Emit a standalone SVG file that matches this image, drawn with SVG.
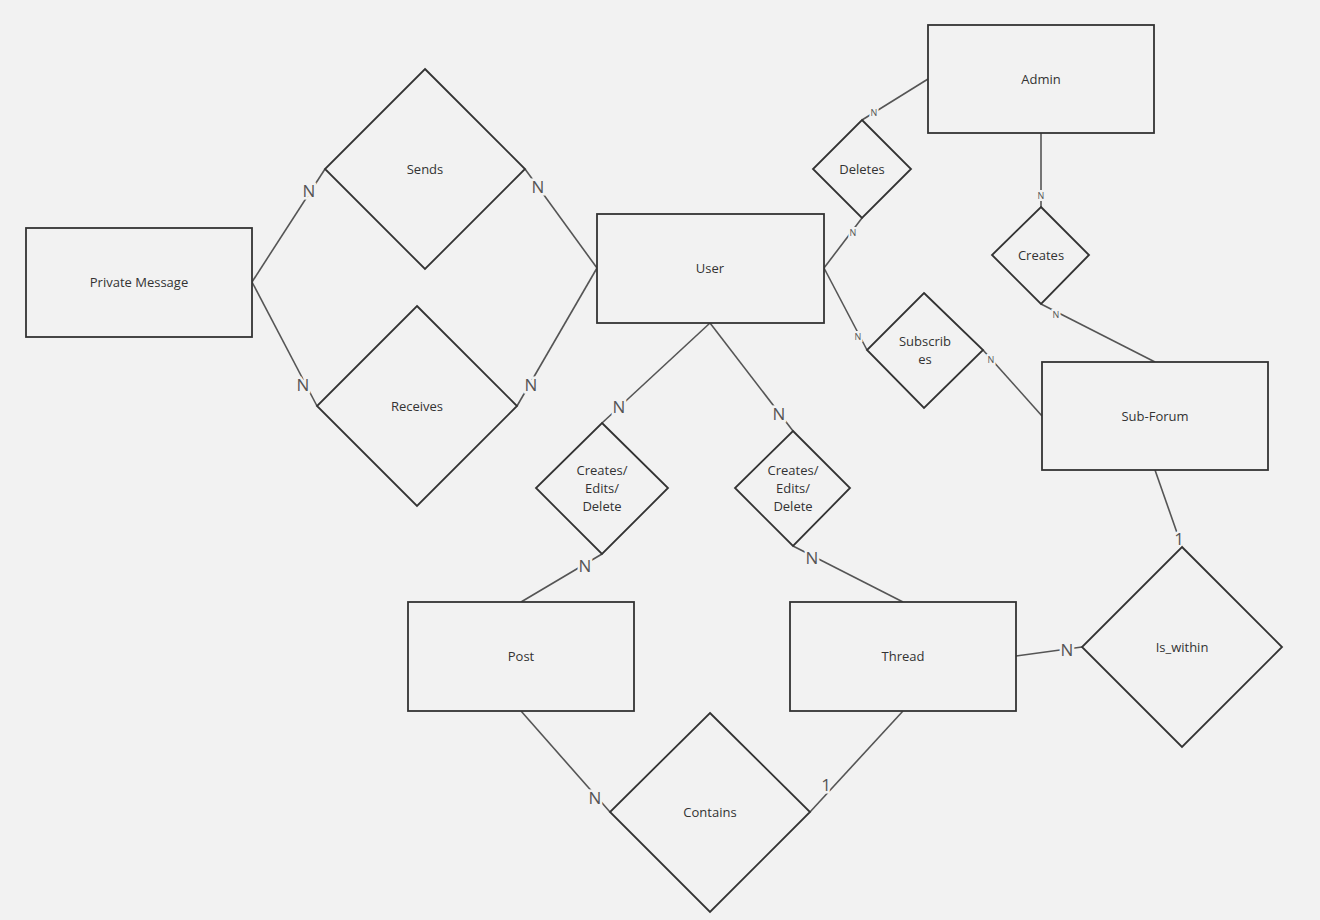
<svg xmlns="http://www.w3.org/2000/svg" width="1320" height="920" viewBox="0 0 1320 920">
<style>
.ent,.rel{fill:#f2f2f2;stroke:#333;stroke-width:1.8}
.t{font-family:"Open Sans","Noto Sans",sans-serif;font-size:13px;fill:#333;text-anchor:middle;dominant-baseline:central}
.c{stroke:#555;stroke-width:1.6;fill:none}
.lb{font-family:"Open Sans","Noto Sans",sans-serif;font-size:17px;fill:#555;text-anchor:middle;dominant-baseline:central;stroke:#f2f2f2;stroke-width:5;paint-order:stroke}
.ls{font-family:"Open Sans","Noto Sans",sans-serif;font-size:9px;fill:#555;text-anchor:middle;dominant-baseline:central;stroke:#f2f2f2;stroke-width:4;paint-order:stroke}
</style>
<rect width="1320" height="920" fill="#f2f2f2"/>
<g id="connectors">
<line class="c" x1="252" y1="282" x2="325" y2="169"/>
<line class="c" x1="525" y1="169" x2="597" y2="268"/>
<line class="c" x1="252" y1="282" x2="317" y2="406"/>
<line class="c" x1="517" y1="406" x2="597" y2="268"/>
<line class="c" x1="710" y1="323" x2="602" y2="423"/>
<line class="c" x1="710" y1="323" x2="793" y2="431"/>
<line class="c" x1="602" y1="554" x2="521" y2="602"/>
<line class="c" x1="793" y1="546" x2="903" y2="602"/>
<line class="c" x1="521" y1="711" x2="610" y2="812"/>
<line class="c" x1="903" y1="711" x2="810" y2="812"/>
<line class="c" x1="1016" y1="656" x2="1082" y2="647"/>
<line class="c" x1="1155" y1="470" x2="1182" y2="547"/>
<line class="c" x1="824" y1="268" x2="862" y2="218"/>
<line class="c" x1="862" y1="120" x2="928" y2="79"/>
<line class="c" x1="1041" y1="133" x2="1041" y2="207"/>
<line class="c" x1="1041" y1="304" x2="1155" y2="362"/>
<line class="c" x1="824" y1="268" x2="867" y2="350"/>
<line class="c" x1="983" y1="350" x2="1042" y2="416"/>
<text class="lb" x="309" y="190">N</text>
<text class="lb" x="538" y="186">N</text>
<text class="lb" x="303" y="384">N</text>
<text class="lb" x="531" y="384">N</text>
<text class="lb" x="619" y="406">N</text>
<text class="lb" x="779" y="413">N</text>
<text class="lb" x="585" y="565">N</text>
<text class="lb" x="812" y="557">N</text>
<text class="lb" x="595" y="797">N</text>
<text class="lb" x="826" y="784">1</text>
<text class="lb" x="1067" y="649">N</text>
<text class="lb" x="1179" y="538">1</text>
<text class="ls" x="853" y="232">N</text>
<text class="ls" x="874" y="112">N</text>
<text class="ls" x="1041" y="195">N</text>
<text class="ls" x="1056" y="314">N</text>
<text class="ls" x="858" y="336">N</text>
<text class="ls" x="991" y="359">N</text>
</g>
<g id="private-message"><rect class="ent" x="26" y="228" width="226" height="109"/><text class="t" x="139" y="282">Private Message</text></g>
<g id="user"><rect class="ent" x="597" y="214" width="227" height="109"/><text class="t" x="710" y="268">User</text></g>
<g id="admin"><rect class="ent" x="928" y="25" width="226" height="108"/><text class="t" x="1041" y="79">Admin</text></g>
<g id="sub-forum"><rect class="ent" x="1042" y="362" width="226" height="108"/><text class="t" x="1155" y="416">Sub-Forum</text></g>
<g id="post"><rect class="ent" x="408" y="602" width="226" height="109"/><text class="t" x="521" y="656">Post</text></g>
<g id="thread"><rect class="ent" x="790" y="602" width="226" height="109"/><text class="t" x="903" y="656">Thread</text></g>
<g id="sends"><polygon class="rel" points="425,69 525,169 425,269 325,169"/><text class="t" x="425" y="169">Sends</text></g>
<g id="receives"><polygon class="rel" points="417,306 517,406 417,506 317,406"/><text class="t" x="417" y="406">Receives</text></g>
<g id="deletes"><polygon class="rel" points="862,120 911,169 862,218 813,169"/><text class="t" x="862" y="169">Deletes</text></g>
<g id="creates"><polygon class="rel" points="1041,207 1089,255 1041,304 992,255"/><text class="t" x="1041" y="255">Creates</text></g>
<g id="subscribes"><polygon class="rel" points="924,293 983,350 924,408 867,350"/><text class="t" x="925" y="341">Subscrib</text><text class="t" x="925" y="359">es</text></g>
<g id="ced-post"><polygon class="rel" points="602,423 668,488 602,554 536,488"/><text class="t" x="602" y="470">Creates/</text><text class="t" x="602" y="488">Edits/</text><text class="t" x="602" y="506">Delete</text></g>
<g id="ced-thread"><polygon class="rel" points="793,431 850,488 793,546 735,488"/><text class="t" x="793" y="470">Creates/</text><text class="t" x="793" y="488">Edits/</text><text class="t" x="793" y="506">Delete</text></g>
<g id="contains"><polygon class="rel" points="710,713 810,812 710,912 610,812"/><text class="t" x="710" y="812">Contains</text></g>
<g id="is-within"><polygon class="rel" points="1182,547 1282,647 1182,747 1082,647"/><text class="t" x="1182" y="647">Is_within</text></g>
</svg>
